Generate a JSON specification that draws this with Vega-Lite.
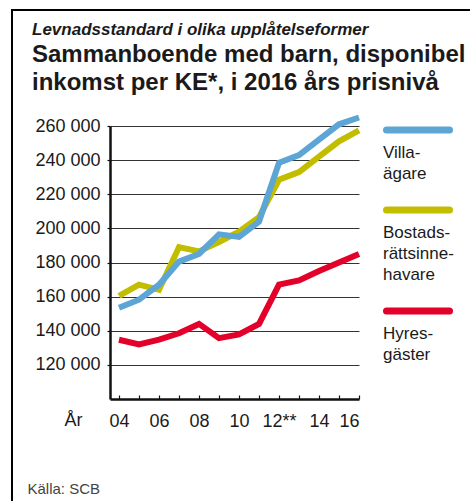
{
  "$schema": "https://vega.github.io/schema/vega-lite/v6.json",
  "width": 460,
  "height": 495,
  "autosize": {"type": "none"},
  "padding": {"left": 12, "top": 10, "right": 0, "bottom": 0},
  "background": "white",
  "config": {
    "font": "Liberation Sans",
    "view": {"stroke": "black", "strokeWidth": 2}
  },
  "title": {
    "text": "Levnadsstandard i olika upplåtelseformer",
    "subtitle": ["Sammanboende med barn, disponibel", "inkomst per KE*, i 2016 års prisnivå"],
    "anchor": "start",
    "frame": "group",
    "dx": 20,
    "offset": -86,
    "fontSize": 17,
    "fontStyle": "italic",
    "fontWeight": "bold",
    "color": "#1a1a1a",
    "subtitleFontSize": 24,
    "subtitleFontWeight": "bold",
    "subtitleFontStyle": "normal",
    "subtitleColor": "#1a1a1a",
    "subtitleLineHeight": 28,
    "subtitlePadding": 4
  },
  "data": {
    "values": [
      {"year": 2004, "serie": "Bostadsrättsinnehavare", "v": 160500},
      {"year": 2005, "serie": "Bostadsrättsinnehavare", "v": 167000},
      {"year": 2006, "serie": "Bostadsrättsinnehavare", "v": 164000},
      {"year": 2007, "serie": "Bostadsrättsinnehavare", "v": 189000},
      {"year": 2008, "serie": "Bostadsrättsinnehavare", "v": 186500},
      {"year": 2009, "serie": "Bostadsrättsinnehavare", "v": 192000},
      {"year": 2010, "serie": "Bostadsrättsinnehavare", "v": 198000},
      {"year": 2011, "serie": "Bostadsrättsinnehavare", "v": 206500},
      {"year": 2012, "serie": "Bostadsrättsinnehavare", "v": 228500},
      {"year": 2013, "serie": "Bostadsrättsinnehavare", "v": 233000},
      {"year": 2014, "serie": "Bostadsrättsinnehavare", "v": 242000},
      {"year": 2015, "serie": "Bostadsrättsinnehavare", "v": 251000},
      {"year": 2016, "serie": "Bostadsrättsinnehavare", "v": 257500},
      {"year": 2004, "serie": "Villaägare", "v": 153500},
      {"year": 2005, "serie": "Villaägare", "v": 158200},
      {"year": 2006, "serie": "Villaägare", "v": 167000},
      {"year": 2007, "serie": "Villaägare", "v": 180500},
      {"year": 2008, "serie": "Villaägare", "v": 185000},
      {"year": 2009, "serie": "Villaägare", "v": 196500},
      {"year": 2010, "serie": "Villaägare", "v": 195000},
      {"year": 2011, "serie": "Villaägare", "v": 204000},
      {"year": 2012, "serie": "Villaägare", "v": 238500},
      {"year": 2013, "serie": "Villaägare", "v": 243000},
      {"year": 2014, "serie": "Villaägare", "v": 252000},
      {"year": 2015, "serie": "Villaägare", "v": 261000},
      {"year": 2016, "serie": "Villaägare", "v": 265000},
      {"year": 2004, "serie": "Hyresgäster", "v": 134700},
      {"year": 2005, "serie": "Hyresgäster", "v": 132000},
      {"year": 2006, "serie": "Hyresgäster", "v": 134800},
      {"year": 2007, "serie": "Hyresgäster", "v": 138500},
      {"year": 2008, "serie": "Hyresgäster", "v": 144000},
      {"year": 2009, "serie": "Hyresgäster", "v": 135700},
      {"year": 2010, "serie": "Hyresgäster", "v": 137800},
      {"year": 2011, "serie": "Hyresgäster", "v": 144000},
      {"year": 2012, "serie": "Hyresgäster", "v": 167000},
      {"year": 2013, "serie": "Hyresgäster", "v": 169500},
      {"year": 2014, "serie": "Hyresgäster", "v": 175000},
      {"year": 2015, "serie": "Hyresgäster", "v": 180000},
      {"year": 2016, "serie": "Hyresgäster", "v": 185000}
    ]
  },
  "mark": {"type": "line", "strokeWidth": 6, "clip": false},
  "encoding": {
    "x": {
      "field": "year",
      "type": "quantitative",
      "scale": {"domain": [2003.55, 2016], "range": [98, 347], "nice": false, "zero": false},
      "axis": {
        "orient": "bottom",
        "offset": -106,
        "values": [2004, 2005, 2006, 2007, 2008, 2009, 2010, 2011, 2012, 2013, 2014, 2015, 2016],
        "labelExpr": "datum.value % 2 == 0 ? (datum.value == 2012 ? '12**' : substring(toString(datum.value), 2, 4)) : ''",
        "grid": false,
        "domainColor": "#111",
        "domainWidth": 2.5,
        "tickColor": "#111",
        "tickWidth": 1.2,
        "tickSize": -4,
        "labelPadding": 17,
        "labelFontSize": 18,
        "labelColor": "#1a1a1a",
        "labelFont": "Liberation Sans",
        "title": "År",
        "titleFontSize": 18,
        "titleFontWeight": "normal",
        "titleColor": "#1a1a1a",
        "titleX": 61,
        "titleY": 21,
        "titleAlign": "center",
        "titleBaseline": "middle",
        "titleAngle": 0
      }
    },
    "y": {
      "field": "v",
      "type": "quantitative",
      "scale": {"domain": [100000, 260000], "range": [389, 116], "nice": false, "zero": false},
      "axis": {
        "orient": "left",
        "offset": -98,
        "values": [120000, 140000, 160000, 180000, 200000, 220000, 240000, 260000],
        "labelExpr": "replace(format(datum.value, ','), ',', ' ')",
        "grid": true,
        "gridColor": "#333",
        "gridWidth": 1,
        "domainColor": "#111",
        "domainWidth": 2.5,
        "tickColor": "#111",
        "tickWidth": 1.2,
        "tickSize": 3,
        "labelPadding": 7,
        "labelFontSize": 18,
        "labelColor": "#1a1a1a",
        "labelBaseline": "middle",
        "title": "Källa: SCB",
        "titleFontSize": 15,
        "titleFontWeight": "normal",
        "titleColor": "#444",
        "titleAngle": 0,
        "titleAlign": "left",
        "titleBaseline": "middle",
        "titleX": -83,
        "titleY": 478
      }
    },
    "color": {
      "field": "serie",
      "type": "nominal",
      "scale": {
        "domain": ["Villaägare", "Bostadsrättsinnehavare", "Hyresgäster"],
        "range": ["#5ca5d5", "#c3bd00", "#e3002a"]
      },
      "legend": {
        "orient": "none",
        "legendX": 385,
        "legendY": 99,
        "title": null,
        "padding": 0,
        "symbolType": "M-1.8,0H1.8",
        "symbolSize": 1225,
        "symbolStrokeWidth": 7,
        "symbolOpacity": 1,
        "labelExpr": "datum.label == 'Villaägare' ? ['Villa-', 'ägare'] : (datum.label == 'Hyresgäster' ? ['Hyres-', 'gäster'] : ['Bostads-', 'rättsinne-', 'havare'])",
        "labelFontSize": 17,
        "labelColor": "#1a1a1a",
        "labelOffset": -56,
        "labelBaseline": "top",
        "rowPadding": 7,
        "labelLimit": 200,
        "encode": {
          "symbols": {"update": {"strokeCap": {"value": "round"}}},
          "labels": {"update": {"dy": {"value": 14.5}, "lineHeight": {"value": 21}}}
        }
      }
    }
  }
}
